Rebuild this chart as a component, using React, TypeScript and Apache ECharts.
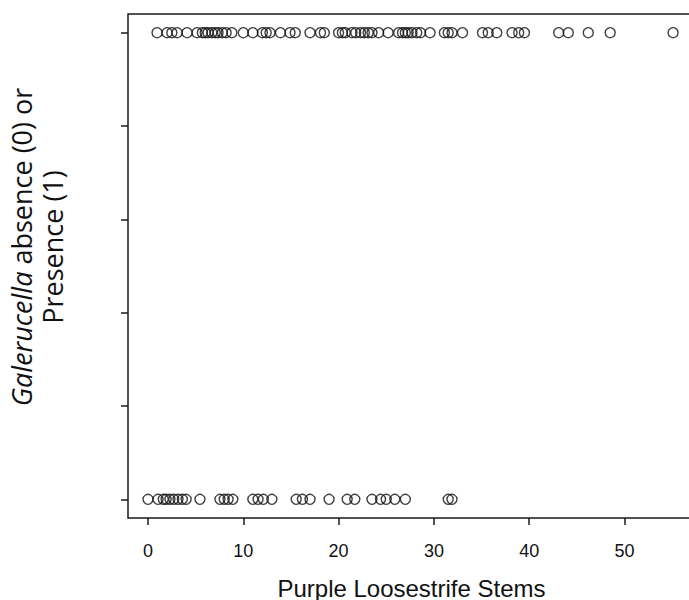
import React, { useEffect, useRef } from "react";
import * as echarts from "echarts";

const presentStems = [
  0.95, 2.0, 2.5, 3.05, 4.1, 5.15, 5.7, 6.0, 6.3, 6.7, 7.05, 7.35, 7.8, 8.2, 8.8,
  10.0, 11.0, 12.0, 12.4, 12.8, 13.9, 14.9, 15.45, 17.0, 18.1, 18.5, 20.0, 20.4,
  20.7, 21.4, 21.8, 22.3, 22.7, 23.1, 23.5, 24.2, 25.2, 26.3, 26.7, 27.0, 27.3,
  27.7, 28.2, 28.6, 29.6, 31.1, 31.5, 31.9, 33.0, 35.1, 35.7, 36.6, 38.2, 38.9,
  39.5, 43.1, 44.1, 46.2, 48.5, 55.1,
];
const absentStems = [
  0, 1.05, 1.6, 1.9, 2.3, 2.7, 3.15, 3.6, 4.0, 5.45, 7.55, 8.0, 8.4, 8.9, 11.0,
  11.55, 12.1, 13.0, 15.55, 16.2, 17.0, 19.0, 20.9, 21.7, 23.5, 24.4, 25.0, 25.9,
  27.0, 31.5, 31.9,
];
const xTicks = [0, 10, 20, 30, 40, 50];
const yTicks = [0, 0.2, 0.4, 0.6, 0.8, 1];

export default function App() {
  const ref = useRef<HTMLDivElement>(null);
  useEffect(() => {
    document.body.style.margin = "0";
    document.body.style.overflow = "hidden";
    const chart = echarts.init(ref.current!, null, { renderer: "svg" });
    const data = [
      ...presentStems.map((x) => [x, 1]),
      ...absentStems.map((x) => [x, 0]),
    ];
    chart.setOption({
      animation: false,
      backgroundColor: "#fff",
      grid: {
        left: 128,
        top: 14,
        width: 567,
        height: 504,
        outerBoundsMode: "none",
        containLabel: false,
        show: true,
        borderColor: "#1a1a1a",
        borderWidth: 1.5,
        backgroundColor: "transparent",
      },
      xAxis: {
        type: "value",
        min: -2.1,
        max: 57.4,
        name: "Purple Loosestrife Stems",
        nameLocation: "middle",
        nameGap: 58,
        nameTextStyle: { fontFamily: "Liberation Sans", fontSize: 24, color: "#111" },
        axisLine: { show: false, onZero: false },
        splitLine: { show: false },
        axisTick: {
          show: true,
          length: 7,
          customValues: xTicks,
          lineStyle: { color: "#1a1a1a", width: 1.5 },
        },
        axisLabel: {
          customValues: xTicks,
          margin: 24,
          fontFamily: "Liberation Sans",
          fontSize: 18,
          color: "#111",
        },
      },
      yAxis: {
        type: "value",
        min: -0.04,
        max: 1.04,
        axisLine: { show: false, onZero: false },
        splitLine: { show: false },
        axisTick: {
          show: true,
          length: 7,
          customValues: yTicks,
          lineStyle: { color: "#1a1a1a", width: 1.5 },
        },
        axisLabel: { show: false, customValues: yTicks },
      },
      graphic: [
        {
          type: "text",
          x: 37,
          y: 247,
          rotation: Math.PI / 2,
          style: {
            text: "{i|Galerucella} absence (0) or\nPresence (1)",
            fontFamily: "Open Sans",
            fontSize: 27,
            lineHeight: 31,
            fill: "#111",
            align: "center",
            verticalAlign: "middle",
            rich: {
              i: { fontStyle: "italic", fontFamily: "Open Sans", fontSize: 27, lineHeight: 31 },
            },
          },
        },
      ],
      series: [
        {
          type: "scatter",
          data,
          symbol: "circle",
          symbolSize: 10,
          itemStyle: { color: "transparent", borderColor: "#111", borderWidth: 1.4 },
        },
      ],
    });
    return () => chart.dispose();
  }, []);
  return (
    <div style={{ position: "absolute", left: 0, top: 0, width: 689, height: 600, overflow: "hidden" }}>
      <div ref={ref} style={{ width: 700, height: 600 }} />
    </div>
  );
}
